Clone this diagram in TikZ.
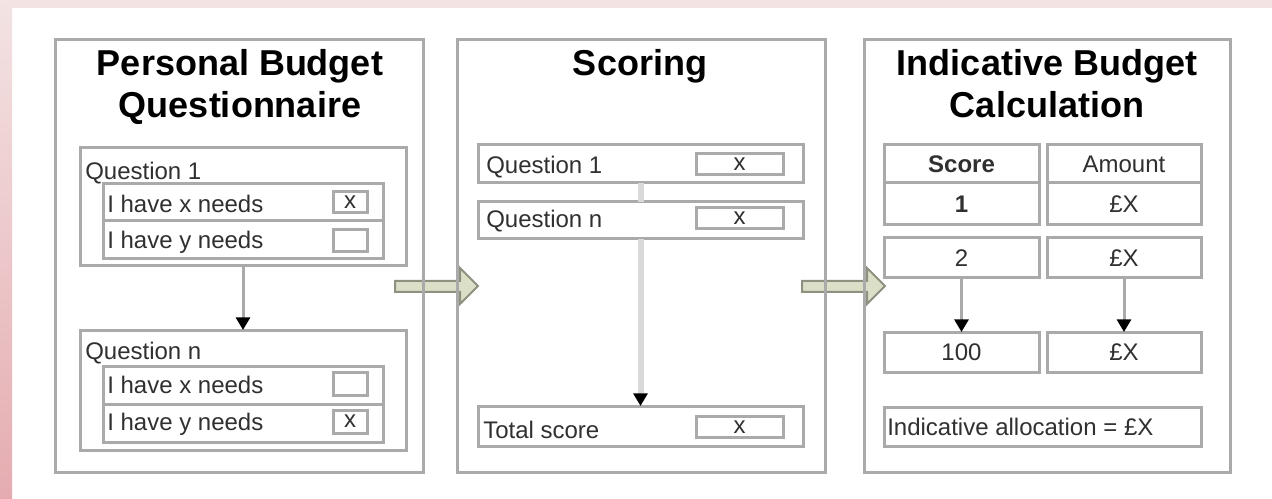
\documentclass[tikz,border=0pt]{standalone}
\usepackage{fontspec}
\setmainfont{Liberation Sans}
\usetikzlibrary{arrows.meta}
\definecolor{edge}{HTML}{AAAAAA}
\definecolor{lightedge}{HTML}{D9D9D9}
\definecolor{arrowfill}{HTML}{DCDFC8}
\definecolor{arrowedge}{HTML}{8E9080}
\definecolor{pinktop}{HTML}{F3E3E3}
\definecolor{pinkbot}{HTML}{E5ACB0}
\definecolor{txt}{HTML}{303030}
\begin{document}
\begin{tikzpicture}[x=0.75pt,y=-0.75pt,
  box/.style 2 args={draw=edge, line width=2.25pt, rectangle, inner sep=0pt, outer sep=0pt,
     minimum width=#1*0.75pt, minimum height=#2*0.75pt},
  title/.style={inner sep=0pt, anchor=base, font=\fontsize{27}{32}\selectfont\bfseries, text=black},
  lbl/.style={inner sep=0pt, anchor=base west, font=\fontsize{18}{22}\selectfont, text=txt},
  clbl/.style={inner sep=0pt, anchor=base, font=\fontsize{18}{22}\selectfont, text=txt},
  xmark/.style={inner sep=0pt, font=\fontsize{18}{22}\selectfont, text=txt},
  flow/.style={draw=edge, line width=2.25pt, -{Triangle[black, width=10.5pt, length=9.5pt]}},
  softflow/.style={draw=lightedge, line width=4.5pt},
  softarrow/.style={draw=lightedge, line width=4.5pt, -{Triangle[black, width=10.5pt, length=9.5pt]}},
  blockarrow/.style={fill=arrowfill, draw=arrowedge, line width=1.5pt, line join=miter}
]
% canvas and background
\useasboundingbox (0,0) rectangle (1272,499);
\fill[white] (0,0) rectangle (1272,499);
\fill[pinktop] (0,0) rectangle (1272,8);
\shade[top color=pinktop, bottom color=pinkbot] (0,0) rectangle (12,499);

% block arrows between the panels
\draw[blockarrow] (395,281) -- (460,281) -- (460,268) -- (478,286) -- (460,304) -- (460,292) -- (395,292) -- cycle;
\draw[blockarrow] (802,281) -- (867,281) -- (867,268) -- (885,286) -- (867,304) -- (867,292) -- (802,292) -- cycle;

% ---------- Panel 1 ----------
\node[box={368}{432}] (p1) at (239,256) {};
\node[title] (p1t1) at (240,76) {Personal Budget};
\node[title] (p1t2) at (240,118) {Questionnaire};

\node[box={326}{118}] (q1c) at (243,207) {};
\node[lbl] (q1l) at (85,180) {Question 1};
\node[box={280}{37}] (q1r1) at (243,202.5) {};
\node[box={280}{38}] (q1r2) at (243,240) {};
\node[lbl] (q1r1l) at (107,213) {I have x needs};
\node[lbl] (q1r2l) at (107,248) {I have y needs};
\node[box={34}{21}] (q1c1) at (350,202) {};
\node[box={34}{22}] (q1c2) at (350,240.5) {};
\node[xmark] (q1m1) at (q1c1) {x};

\node[box={326}{120}] (qnc) at (243,390) {};
\node[lbl] (qnl) at (85,359) {Question n};
\node[box={280}{38}] (qnr1) at (243,385) {};
\node[box={280}{38}] (qnr2) at (243,423) {};
\node[lbl] (qnr1l) at (107,393) {I have x needs};
\node[lbl] (qnr2l) at (107,430) {I have y needs};
\node[box={34}{23}] (qnc1) at (350,384) {};
\node[box={34}{23}] (qnc2) at (350,421.5) {};
\node[xmark] (qnm2) at (qnc2) {x};

\draw[flow] (q1c.south) -- (qnc.north);

% ---------- Panel 2 ----------
\node[box={368}{432}] (p2) at (641,256) {};
\node[title] (p2t) at (640,76) {Scoring};

\node[box={325}{38}] (s1) at (640.5,164) {};
\node[lbl] (s1l) at (486,174) {Question 1};
\node[box={87}{21}] (s1v) at (739.5,164.5) {};
\node[xmark] (s1x) at (s1v) {x};

\node[box={325}{37}] (sn) at (640.5,220.5) {};
\node[lbl] (snl) at (486,228) {Question n};
\node[box={87}{21}] (snv) at (739.5,218) {};
\node[xmark] (snx) at (snv) {x};

\node[box={325}{40}] (st) at (640.5,426) {};
\node[lbl] (stl) at (483,438) {Total score};
\node[box={87}{21}] (stv) at (739.5,427) {};
\node[xmark] (stx) at (stv) {x};

\draw[softflow] (s1.south) -- (sn.north);
\draw[softarrow] (sn.south) -- (st.north);

% ---------- Panel 3 ----------
\node[box={366}{432}] (p3) at (1047,256) {};
\node[title] (p3t1) at (1047,76) {Indicative Budget};
\node[title] (p3t2) at (1047,118) {Calculation};

\node[box={155}{38}] (hs) at (961.5,164) {};
\node[box={154}{38}] (ha) at (1124,164) {};
\node[clbl, font=\fontsize{18}{22}\selectfont\bfseries] (hsl) at (961.5,173) {Score};
\node[clbl] (hal) at (1124,173) {Amount};

\node[box={155}{42}] (r1s) at (961.5,204) {};
\node[box={154}{42}] (r1a) at (1124,204) {};
\node[clbl, font=\fontsize{18}{22}\selectfont\bfseries] (r1sl) at (961.5,213) {1};
\node[clbl] (r1al) at (1124,213) {£X};

\node[box={155}{40}] (r2s) at (961.5,258) {};
\node[box={154}{40}] (r2a) at (1124,258) {};
\node[clbl] (r2sl) at (961.5,267) {2};
\node[clbl] (r2al) at (1124,267) {£X};

\node[box={155}{40}] (r3s) at (961.5,352) {};
\node[box={154}{40}] (r3a) at (1124,352) {};
\node[clbl] (r3sl) at (961.5,360) {100};
\node[clbl] (r3al) at (1124,360) {£X};

\draw[flow] (r2s.south) -- (r3s.north);
\draw[flow] (r2a.south) -- (r3a.north);

\node[box={317}{39}] (alloc) at (1042.5,426.5) {};
\node[lbl] (allocl) at (887,435) {Indicative allocation = £X};
\end{tikzpicture}
\end{document}
